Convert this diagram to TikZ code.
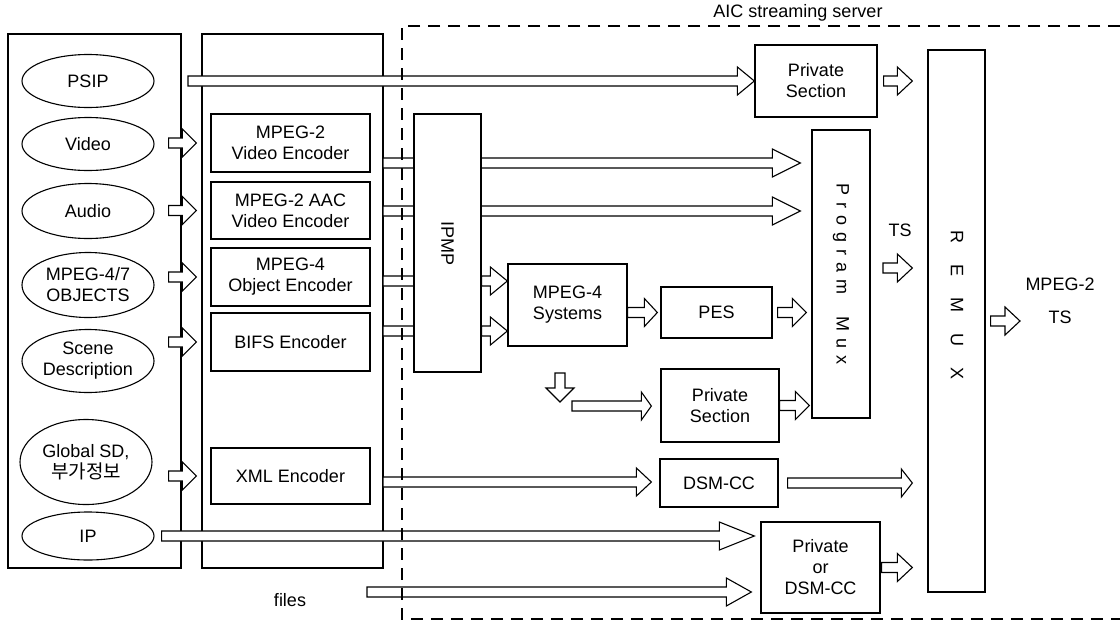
\documentclass[tikz,border=0pt]{standalone}
\usepackage{fontspec}
\setmainfont{Liberation Sans}
\newfontfamily\krfont{Noto Sans CJK KR}
\usepackage{tikz}
\usetikzlibrary{calc,positioning,shapes.geometric}

\tikzset{
  box/.style={draw,line width=1.3pt,align=center,inner sep=0pt},
  cloudy/.style={draw,ellipse,line width=1.1pt,align=center,inner sep=0pt,minimum width=132pt},
  blk/.style={draw,fill=white,line width=1.1pt,to path={
    let \p1=(\tikztostart),\p2=(\tikztotarget) in
    (\x1,\y1+5pt) -- (\x2-#1,\y1+5pt) -- (\x2-#1,\y1+14pt) -- (\x2,\y1)
    -- (\x2-#1,\y1-14pt) -- (\x2-#1,\y1-5pt) -- (\x1,\y1-5pt) -- cycle}},
  blk/.default=15pt,
  blkd/.style={draw,fill=white,line width=1.1pt,to path={
    let \p1=(\tikztostart),\p2=(\tikztotarget) in
    (\x1-5pt,\y1) -- (\x1-5pt,\y2+#1) -- (\x1-14pt,\y2+#1) -- (\x1,\y2)
    -- (\x1+14pt,\y2+#1) -- (\x1+5pt,\y2+#1) -- (\x1+5pt,\y1) -- cycle}},
  blkd/.default=14pt
}

\begin{document}
\begin{tikzpicture}[x=1pt,y=-1pt,every node/.style={font=\fontsize{18}{21}\selectfont}]
  \useasboundingbox (0,0) rectangle (1120,622);

  % sources and encoders
  \node[box,minimum width=173pt,minimum height=534pt] (srcbox) at (94.5,301) {};
  \node[box,minimum width=181pt,minimum height=534pt] (encbox) at (292.5,301) {};

  \node[cloudy,minimum height=53pt] (psip) at (88,81) {PSIP};
  \node[cloudy,minimum height=53pt] (video) at (88,144) {Video};
  \node[cloudy,minimum height=55pt] (audio) at (88,211) {Audio};
  \node[cloudy,minimum height=65pt] (objs) at (88,285) {MPEG-4/7\\OBJECTS};
  \node[cloudy,minimum height=63pt] (scene) at (88,361) {Scene\\Description};
  \node[cloudy,minimum height=85pt] (gsd) at (86,462) {Global SD,\\{\krfont\fontsize{19}{21}\selectfont 부가정보}};
  \node[cloudy,minimum height=48pt] (ip) at (88,536) {IP};

  \node[box,minimum width=159pt,minimum height=58pt] (enc1) at (290.5,143) {MPEG-2\\Video Encoder};
  \node[box,minimum width=159pt,minimum height=57pt] (enc2) at (290.5,210.5) {MPEG-2 AAC\\Video Encoder};
  \node[box,minimum width=159pt,minimum height=58pt] (enc3) at (290.5,277) {MPEG-4\\Object Encoder};
  \node[box,minimum width=159pt,minimum height=58pt] (bifs) at (290.5,342) {BIFS Encoder};
  \node[box,minimum width=159pt,minimum height=56pt] (xml) at (290.5,476) {XML Encoder};

  % server blocks
  \node[box,minimum width=122pt,minimum height=72pt] (psec1) at (816,81) {Private\\Section};
  \node[box,minimum width=119pt,minimum height=82pt] (sys) at (567.5,305) {MPEG-4\\Systems};
  \node[box,minimum width=111pt,minimum height=51pt] (pes) at (716.5,312.5) {PES};
  \node[box,minimum width=118pt,minimum height=73pt] (psec2) at (720,405.5) {Private\\Section};
  \node[box,minimum width=118pt,minimum height=48pt] (dsm) at (719,483) {DSM-CC};
  \node[box,minimum width=119pt,minimum height=91pt] (pdsm) at (820.5,567.5) {Private\\or\\DSM-CC};
  \node[box,minimum width=58pt,minimum height=288pt] (pmux) at (841,274) {};
  \node[rotate=-90] at (pmux) {P\kern7pt r\kern7pt o\kern7pt g\kern7pt r\kern7pt a\kern7pt m\kern22pt M\kern7pt u\kern7pt x};
  \node[box,minimum width=57pt,minimum height=542pt] (remux) at (956.5,321) {};
  \node[rotate=-90] at (957,305) {R\kern21pt E\kern21pt M\kern21pt U\kern21pt X};

  \node (ts) at (900,230) {TS};
  \node[align=center,font=\fontsize{18}{33}\selectfont] (mts) at (1060,301) {MPEG-2\\TS};
  \node (files) at (290,600) {files};
  \node (aic) at (798,13) {AIC streaming server};

  \coordinate (psipa) at (188,81);
  \coordinate (o1) at (383,163);
  \coordinate (o2) at (383,211);
  \coordinate (o3) at (383,281);
  \coordinate (o4) at (383,331);
  \coordinate (o5) at (383,482);
  \coordinate (ipmpc) at (447.5,243);
  \coordinate (dn) at (560,373);
  \coordinate (dn2) at (560,402);
  \coordinate (sec2a) at (572,406);
  \coordinate (fstart) at (367,592);
  \coordinate (tsa) at (883,268);
  \coordinate (outp) at (1020,321);

  % block arrows
  \draw[blk=17pt] (psipa) to (psec1.west);
  \foreach \enc in {enc1,enc2,enc3,bifs,xml}
    \draw[blk=14pt] ([xshift=-13pt]srcbox.east |- \enc.west) to ([xshift=-14pt]\enc.west);
  \draw[blk=28pt] (o1) to ([xshift=-11pt]pmux.west);
  \draw[blk=28pt] (o2) to ([xshift=-11pt]pmux.west);
  \draw[blk] (o3) to (ipmpc);
  \draw[blk] (o4) to (ipmpc);
  \draw[blk] (o5) to ([xshift=-8pt]dsm.west);
  \draw[blk=35pt] ([xshift=7pt]ip.east) to ([xshift=-6pt]pdsm.west);
  \draw[blk=25pt] (fstart) to ([xshift=-9pt]pdsm.west);

  \node[box,fill=white,minimum width=67pt,minimum height=258pt] (ipmp) at (ipmpc) {};
  \node[rotate=-90] at (ipmp) {IPMP};

  \draw[blk=17pt] (ipmp.east |- o3) to (sys.west);
  \draw[blk=17pt] (ipmp.east |- o4) to (sys.west);
  \draw[blk=13pt] (sys.east |- pes.west) to ([xshift=-3pt]pes.west);
  \draw[blk=14pt] ([xshift=5pt]pes.east) to ([xshift=-5pt]pmux.west);
  \draw[blk=14pt] (psec2.east) to ([xshift=-2pt]pmux.west);
  \draw[blkd] (dn) to (dn2);
  \draw[blk=10pt] (sec2a) to ([xshift=-9pt]psec2.west);
  \draw[blk=11pt] ([xshift=9pt]dsm.east) to ([xshift=-15pt]remux.west);
  \draw[blk] ([xshift=1pt]pdsm.east) to ([xshift=-15pt]remux.west);
  \draw[blk] ([xshift=6pt]psec1.east) to ([xshift=-15pt]remux.west);
  \draw[blk] (tsa) to ([xshift=-15pt]remux.west);
  \draw[blk] ([xshift=5pt]remux.east) to (outp);

  % server boundary
  \draw[line width=2.5pt,dash pattern=on 12pt off 8pt] (1120,26) -- (402,26) -- (402,619) -- (1120,619);
\end{tikzpicture}
\end{document}
